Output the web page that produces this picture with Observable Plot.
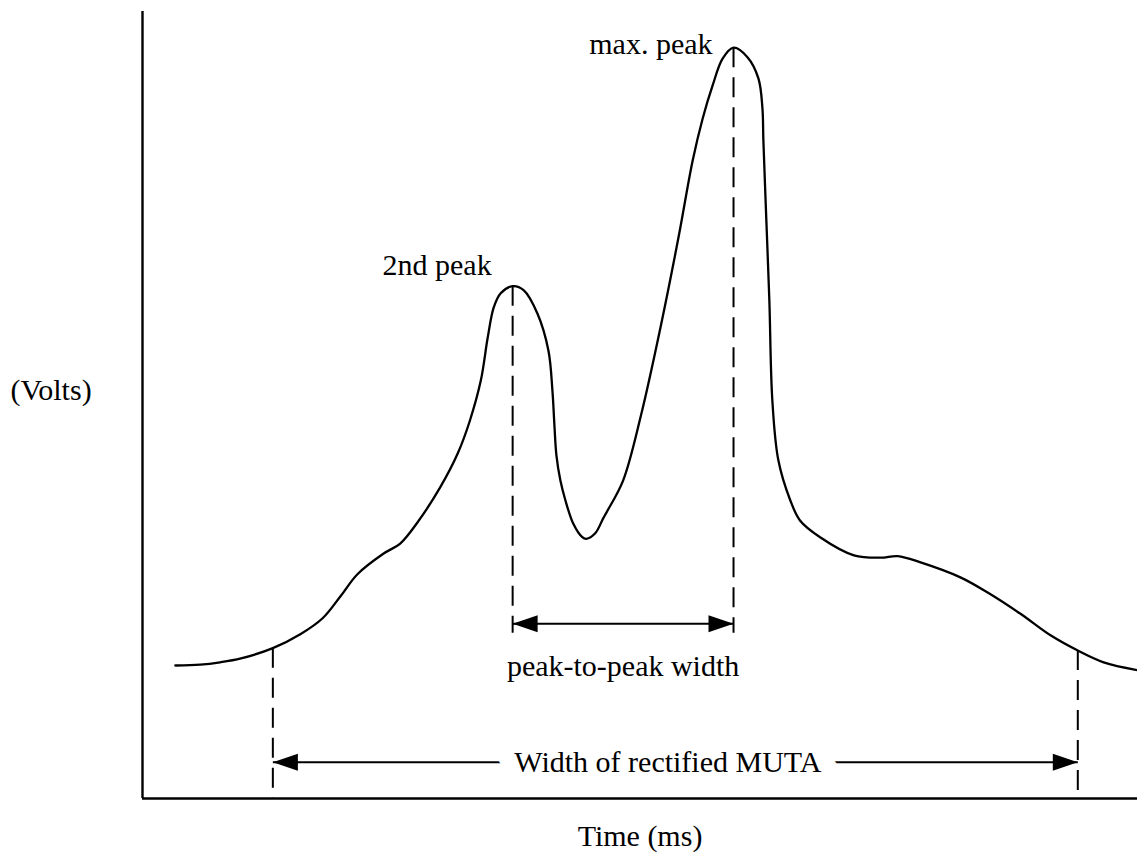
<!DOCTYPE html>
<html>
<head>
<meta charset="utf-8">
<script src="https://cdn.jsdelivr.net/npm/d3@7"></script>
<script src="https://cdn.jsdelivr.net/npm/@observablehq/plot@0.6"></script>
<style>
  html, body { margin: 0; padding: 0; background: #fff; }
</style>
</head>
<body>
<div id="chart"></div>
<script>
// Rectified motor-unit action potential (MUTA) trace, time in ms, amplitude in volts (arbitrary units)
const time = [3.3, 5.8, 7.8, 9.9, 13.1, 15.9, 18.1, 19.9, 21.6, 24.2, 25.9, 27.7,
  29.9, 31.7, 32.9, 34.0, 34.7, 35.3, 36.0, 37.2, 38.3, 39.7, 40.8, 41.2, 41.4, 41.6, 42.0,
  42.5, 43.3, 44.2, 44.6, 45.5, 46.3, 46.7, 48.3, 50.1, 52.1, 53.9, 55.3, 56.3, 57.3, 58.3,
  59.4, 60.8, 61.9, 62.3, 62.4, 62.7, 63.0, 63.3, 63.9, 65.1, 66.1, 68.1, 71.5, 74.2, 75.9,
  78.2, 82.2, 84.9, 88.2, 91.3, 94.0, 96.6, 100.0];
const volts = [16.9, 17.0, 17.3, 17.8, 19.1, 20.9, 22.9, 25.7, 28.5, 31.1, 32.4, 35.2,
  39.5, 43.9, 48.0, 53.1, 58.6, 62.4, 64.2, 65.1, 64.6, 61.6, 56.9, 51.8, 47.4, 43.6, 40.4,
  37.9, 34.9, 33.2, 33.0, 33.7, 35.6, 36.5, 40.4, 48.7, 60.1, 71.5, 81.1, 86.4, 90.6, 94.0,
  95.4, 94.2, 91.5, 87.8, 83.6, 73.4, 63.3, 50.6, 43.0, 37.9, 35.3, 33.2, 30.9, 30.6, 30.8,
  30.0, 28.1, 26.2, 23.5, 20.7, 18.8, 17.3, 16.3];

// Annotated features of the trace
const peakLabels = ["2nd peak", "max. peak"];
const peakTimes = [37.2, 59.4];
const widthTimes = [13.1, 94.0];      // onset and end of the rectified MUTA
const peakArrowLevel = 22.2;          // height of the peak-to-peak arrow
const peakDashBottom = 21.0;          // lower end of the dashed peak markers
const widthArrowLevel = 4.6;          // height of the overall-width arrow
const widthLabelTime = 52.8;

const trace = time.map((t, i) => ({t, v: volts[i]}));
const at = (t) => trace.find((d) => d.t === t).v;
const peaks = peakTimes.map((t, i) => ({t, v: at(t), label: peakLabels[i]}));
const edges = widthTimes.map((t) => ({t, v: at(t)}));

const arrows = [
  {t1: peakTimes[0], t2: peakTimes[1], v: peakArrowLevel},
  {t1: widthTimes[0], t2: widthTimes[1], v: widthArrowLevel}
];
const heads = arrows.flatMap((a) => [
  {t: a.t1, v: a.v, angle: 180},
  {t: a.t2, v: a.v, angle: 0}
]);

// Long filled arrowhead with its tip at the anchor, pointing right
const arrowHead = {
  draw(ctx) {
    ctx.moveTo(0, 0);
    ctx.lineTo(-25, -8.5);
    ctx.lineTo(-25, 8.5);
    ctx.closePath();
  }
};

const label = {textAnchor: "end", lineAnchor: "bottom", fontSize: 30, dx: -21};

const chart = Plot.plot({
  width: 1137,
  height: 861,
  marginLeft: 142,
  marginRight: 0,
  marginTop: 11,
  marginBottom: 63,
  x: {domain: [0, 100], axis: null},
  y: {domain: [0, 100], axis: null},
  style: {fontFamily: "'Liberation Serif', serif", fontSize: "30px", background: "#fff", color: "#000", overflow: "visible"},
  marks: [
    // dashed markers
    Plot.ruleX(peaks, {x: "t", y1: "v", y2: () => peakDashBottom, stroke: "#000", strokeWidth: 2, strokeDasharray: "20,10"}),
    Plot.ruleX(edges, {x: "t", y1: "v", y2: () => 0, stroke: "#000", strokeWidth: 2, strokeDasharray: "20,10"}),
    // the trace
    Plot.line(trace, {x: "t", y: "v", curve: "catmull-rom", stroke: "#000", strokeWidth: 2.3}),
    // arrows
    Plot.link(arrows, {x1: "t1", x2: "t2", y1: "v", y2: "v", stroke: "#000", strokeWidth: 2}),
    Plot.dot(heads, {x: "t", y: "v", r: 5, rotate: "angle", symbol: arrowHead, fill: "#000", stroke: "none"}),
    // peak labels
    Plot.text([peaks[0]], {x: "t", y: "v", text: "label", ...label, dy: -11}),
    Plot.text([peaks[1]], {x: "t", y: "v", text: "label", ...label, dy: 6}),
    Plot.text(["peak-to-peak width"], {x: () => (peakTimes[0] + peakTimes[1]) / 2, y: () => peakArrowLevel,
      textAnchor: "middle", lineAnchor: "bottom", dy: 52, fontSize: 30}),
    Plot.text(["Width of rectified MUTA"], {x: () => widthLabelTime, y: () => widthArrowLevel,
      textAnchor: "middle", lineAnchor: "middle", fontSize: 30, stroke: "#fff", strokeWidth: 34, strokeLinejoin: "round", fill: "#000"}),
    // axis labels
    Plot.text(["(Volts)"], {frameAnchor: "left", y: () => 51.8, dx: -132, textAnchor: "start", fontSize: 30}),
    Plot.text(["Time (ms)"], {frameAnchor: "bottom", x: () => 50, dy: 47, textAnchor: "middle", fontSize: 30}),
    // axes
    Plot.ruleX([0], {stroke: "#000", strokeWidth: 2.4}),
    Plot.ruleY([0], {stroke: "#000", strokeWidth: 2.4})
  ]
});

document.getElementById("chart").appendChild(chart);
</script>
</body>
</html>
